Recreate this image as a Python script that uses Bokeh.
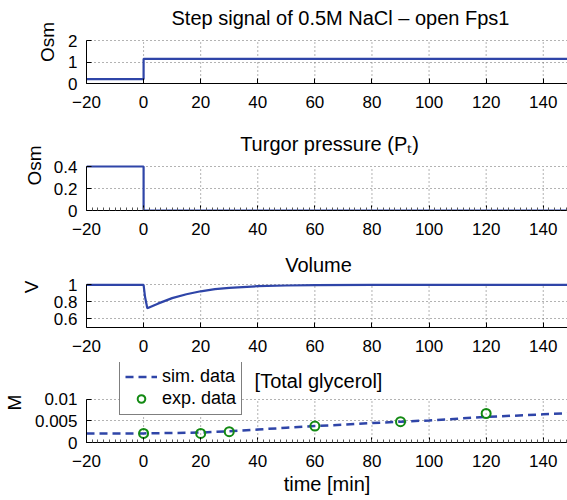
from bokeh.plotting import figure
from bokeh.layouts import column
from bokeh.models import (FixedTicker, CustomJSTickFormatter, Range1d, Label,
                          Legend, LegendItem)
from bokeh.embed import file_html
from bokeh.resources import INLINE

# ---------------- data ----------------
x_ticks = [-20, 0, 20, 40, 60, 80, 100, 120, 140]

# panel 1: step signal (Osm)
step_t = [-20, 0, 0, 150]
step_osm = [0.2, 0.2, 1.15, 1.15]

# panel 2: turgor pressure (Osm)
turgor_t = [-20, 0, 0, 150]
turgor_p = [0.4, 0.4, 0.0, 0.0]

# panel 3: volume
vol_t = [-20, 0, 0.5, 1.3, 5, 10, 15, 20, 25, 30, 40, 50, 60, 80, 150]
vol_v = [1.0, 1.0, 0.86, 0.725, 0.78, 0.845, 0.89, 0.925, 0.95, 0.966,
         0.985, 0.993, 0.997, 1.0, 1.0]

# panel 4: total glycerol (M)
sim_t = [-20, 0, 10, 20, 30, 40, 50, 60, 70, 80, 90, 100, 110, 120, 130, 140, 150]
sim_m = [0.0021, 0.0021, 0.0022, 0.0023, 0.0026, 0.0030, 0.0034, 0.0038,
         0.0041, 0.0045, 0.0048, 0.0051, 0.0055, 0.0059, 0.0062, 0.0065, 0.0068]
exp_t = [0, 20, 30, 60, 90, 120]
exp_m = [0.0021, 0.0021, 0.0025, 0.0038, 0.0048, 0.0067]

titles = ["Step signal of 0.5M NaCl \u2013 open Fps1",
          "Turgor pressure (P\u209c)",
          "Volume",
          "[Total glycerol]"]
y_labels = ["Osm", "Osm", "V", "M"]
y_ticks = [[0, 1, 2], [0, 0.2, 0.4], [0.6, 0.8, 1], [0, 0.005, 0.01]]
y_limits = [(0, 2), (0, 0.4), (0.5, 1.0), (0, 0.01)]
x_label = "time [min]"
legend_labels = ["sim. data", "exp. data"]

# ---------------- layout / styling ----------------
FONT = "Liberation Sans"
BLUE = "#2f45a8"
GREEN = "#138a13"
W = 567
LEFT = 85
PX_PER_MIN = 2.8606
X_END = -20 + (W - LEFT) / PX_PER_MIN

fmt_code = "return String(tick).replace('-', '\\u2212');"


def make_panel(idx, height, frame_h, axis_px, mb_bottom, title_cx, title_up,
               ylabel_standoff, minor=False):
    lo, hi = y_limits[idx]
    # the frame extends above the axis so that the title can sit inside it
    top = lo + frame_h * (hi - lo) / axis_px
    p = figure(width=W, height=height, output_backend="svg",
               toolbar_location=None, x_range=Range1d(-20, X_END),
               y_range=Range1d(lo, top),
               min_border_left=LEFT, min_border_right=0,
               min_border_top=0, min_border_bottom=mb_bottom)
    p.outline_line_color = None
    p.background_fill_color = "white"
    p.border_fill_color = "white"

    xt = FixedTicker(ticks=x_ticks,
                     minor_ticks=list(range(-20, 150, 2)) if minor else [])
    yt = FixedTicker(ticks=y_ticks[idx])
    p.xaxis.ticker = xt
    p.yaxis.ticker = yt
    p.yaxis.bounds = (lo, hi)
    p.xgrid.visible = False
    p.ygrid.ticker = yt
    p.ygrid.grid_line_color = "#666666"
    p.ygrid.grid_line_dash = "1 3"
    # vertical dotted grid, limited to the axis height
    p.segment(x0=x_ticks, y0=[lo] * len(x_ticks), x1=x_ticks,
              y1=[hi] * len(x_ticks), line_color="#666666", line_dash="1 3",
              line_width=1)

    for ax in (p.xaxis[0], p.yaxis[0]):
        ax.formatter = CustomJSTickFormatter(code=fmt_code)
        ax.axis_line_color = "black"
        ax.axis_line_width = 1
        ax.major_tick_in = 5
        ax.major_tick_out = 0
        ax.major_tick_line_color = "black"
        ax.minor_tick_in = 3
        ax.minor_tick_out = 0
        ax.minor_tick_line_color = "#555555" if minor else None
        ax.major_label_text_font = FONT
        ax.major_label_text_font_size = "17px"
        ax.major_label_text_color = "black"
        ax.axis_label_text_font = FONT
        ax.axis_label_text_font_style = "normal"
        ax.axis_label_text_color = "black"
    p.yaxis.minor_tick_line_color = None
    p.xaxis.major_label_standoff = 12
    p.yaxis.major_label_standoff = 9
    p.yaxis.axis_label = y_labels[idx]
    p.yaxis.axis_label_text_font_size = "19px"
    p.yaxis.axis_label_standoff = ylabel_standoff

    p.add_layout(Label(x=title_cx - LEFT, y=title_up, x_units="screen",
                       y_units="screen", text=titles[idx], text_align="center",
                       text_baseline="middle", text_font=FONT,
                       text_font_size="20px", text_color="black"))
    return p


# fig 1: 0-120, frame 0-83
p1 = make_panel(0, 120, 83, 43, 37, 339, 66, 7)
p1.line(step_t, step_osm, line_color=BLUE, line_width=2.2)

# fig 2: 120-246, frame 120-210
p2 = make_panel(1, 126, 90, 44, 36, 328, 67, 6, minor=True)
p2.line(turgor_t, turgor_p, line_color=BLUE, line_width=2.2)

# fig 3: 246-362, frame 246-327
p3 = make_panel(2, 116, 81, 42.6, 35, 317, 63, 9)
p3.line(vol_t, vol_v, line_color=BLUE, line_width=2.2)

# fig 4: 362-500, frame 362-442
p4 = make_panel(3, 138, 80, 43.3, 58, 317, 62, 7, minor=True)
r_sim = p4.line(sim_t, sim_m, line_color=BLUE, line_width=2.5, line_dash="8 5")
r_exp = p4.scatter(exp_t, exp_m, marker="circle", size=9, fill_color=None,
                   line_color=GREEN, line_width=2)
p4.xaxis.axis_label = x_label
p4.xaxis.axis_label_text_font_size = "20px"
p4.xaxis.axis_label_standoff = 3

legend = Legend(items=[LegendItem(label=legend_labels[0], renderers=[r_sim]),
                       LegendItem(label=legend_labels[1], renderers=[r_exp])],
                location=(33, 27))
legend.label_text_font = FONT
legend.label_text_font_size = "18px"
legend.label_text_color = "black"
legend.border_line_color = "black"
legend.border_line_width = 1
legend.background_fill_color = "white"
legend.background_fill_alpha = 1
legend.padding = 5
legend.spacing = 1
legend.margin = 0
legend.glyph_width = 32
legend.glyph_height = 19
legend.label_height = 19
legend.label_standoff = 5
p4.add_layout(legend)

layout = column(p1, p2, p3, p4)
open("out.html", "w").write(file_html(layout, INLINE))
